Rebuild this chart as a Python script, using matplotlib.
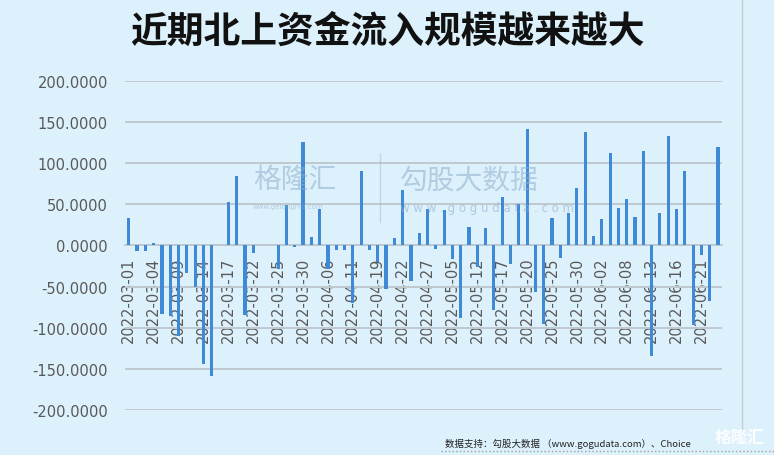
import numpy as np
import matplotlib.pyplot as plt
from matplotlib.lines import Line2D

plt.rcParams['font.family'] = ['DejaVu Sans', 'Noto Sans CJK SC']

# trading days (northbound), every 3rd one is labelled
dates = [
    '2022-03-01', '2022-03-02', '2022-03-03', '2022-03-04', '2022-03-07', '2022-03-08',
    '2022-03-09', '2022-03-10', '2022-03-11', '2022-03-14', '2022-03-15', '2022-03-16',
    '2022-03-17', '2022-03-18', '2022-03-21', '2022-03-22', '2022-03-23', '2022-03-24',
    '2022-03-25', '2022-03-28', '2022-03-29', '2022-03-30', '2022-03-31', '2022-04-01',
    '2022-04-06', '2022-04-07', '2022-04-08', '2022-04-11', '2022-04-12', '2022-04-13',
    '2022-04-19', '2022-04-20', '2022-04-21', '2022-04-22', '2022-04-25', '2022-04-26',
    '2022-04-27', '2022-04-28', '2022-04-29', '2022-05-05', '2022-05-06', '2022-05-11',
    '2022-05-12', '2022-05-13', '2022-05-16', '2022-05-17', '2022-05-18', '2022-05-19',
    '2022-05-20', '2022-05-23', '2022-05-24', '2022-05-25', '2022-05-26', '2022-05-27',
    '2022-05-30', '2022-05-31', '2022-06-01', '2022-06-02', '2022-06-06', '2022-06-07',
    '2022-06-08', '2022-06-09', '2022-06-10', '2022-06-13', '2022-06-14', '2022-06-15',
    '2022-06-16', '2022-06-17', '2022-06-20', '2022-06-21', '2022-06-22', '2022-06-23',
]

# net northbound flow (亿元)
flows = [
    33, -7, -7, 3, -83, -86,
    -110, -34, -51, -144, -159, 0,
    53, 84, -84, -9, 0, 0,
    -28, 49, -2, 126, 10, 44,
    -28, -6, -6, -70, 90, -5,
    -20, -53, 9, 67, -43, 15,
    44, -4, 43, -16, -88, 22,
    -26, 21, -78, 59, -23, 50,
    142, -57, -95, 34, -15, 39,
    70, 138, 12, 32, 112, 46,
    57, 35, 115, -134, 39, 133,
    44, 91, -97, -11, -68, 120,
]

yticks = [-200, -150, -100, -50, 0, 50, 100, 150, 200]

bg = '#DCF1FC'
fig = plt.figure(figsize=(7.74, 4.56), dpi=100, facecolor=bg)
ax = fig.add_axes([0.161, 0.0987, 0.772, 0.7215], facecolor=bg)

x = np.arange(len(dates))
ax.bar(x, flows, width=0.38, color='#3F8AD6', zorder=3)

ax.set_xlim(-0.5, len(dates) - 0.5)
ax.set_ylim(-200, 200)
ax.set_yticks(yticks)
ax.set_yticklabels([f'{v:.4f}' for v in yticks], fontsize=10.5, color='#595959')
ax.yaxis.grid(True, color='#BFC8CE', lw=1.4, zorder=0)

ax.spines['bottom'].set_position(('data', 0))
ax.spines['bottom'].set_color('#BFC8CE')
ax.spines['bottom'].set_linewidth(1.4)
for s in ['top', 'right', 'left']:
    ax.spines[s].set_visible(False)
ax.tick_params(axis='both', length=0)
ax.tick_params(axis='x', pad=8, labelrotation=90)
ax.tick_params(axis='y', pad=12)
ax.set_xticks(x[::3])
ax.set_xticklabels(dates[::3], fontsize=10.5, color='#595959')
for lab in ax.get_xticklabels():
    lab.set_rotation(90)
    lab.set_va('top')
    lab.set_ha('center')

fig.text(0.5, 0.93, '近期北上资金流入规模越来越大', ha='center', va='center',
         fontsize=26.5, fontweight='bold', family='Noto Sans CJK SC', color='#111111')

# watermark
wm = '#8FAECB'
fig.text(0.327, 0.605, '格隆汇', fontsize=20, family='Noto Sans CJK SC', color=wm, alpha=0.55,
         ha='left', va='center')
fig.text(0.327, 0.545, 'www.gelonghui.com', fontsize=5, color=wm, alpha=0.55, ha='left', va='center')
fig.text(0.517, 0.605, '勾股大数据', fontsize=20, family='Noto Sans CJK SC', color=wm, alpha=0.55,
         ha='left', va='center')
fig.text(0.517, 0.543, 'w w w . g o g u d a t a . c o m', fontsize=8.5, color=wm, alpha=0.6,
         ha='left', va='center')
fig.add_artist(Line2D([0.491, 0.491], [0.51, 0.66], color=wm, alpha=0.4, lw=1))
fig.add_artist(Line2D([0.959, 0.959], [0.035, 1.0], color='#C0CCD4', lw=1))
fig.add_artist(Line2D([0.57, 1.0], [0.008, 0.008], color='#A0A0A0', lw=1, ls=':'))

fig.text(0.893, 0.026, '数据支持：勾股大数据 （www.gogudata.com）、Choice', ha='right', va='center',
         fontsize=6.8, family=['Noto Sans CJK SC', 'DejaVu Sans'], color='#222222')
fig.text(0.955, 0.04, '格隆汇', ha='center', va='center', fontsize=12, fontweight='bold',
         family='Noto Sans CJK SC', color='white', alpha=0.9)

fig.savefig('out.png', dpi=100, facecolor=bg)
